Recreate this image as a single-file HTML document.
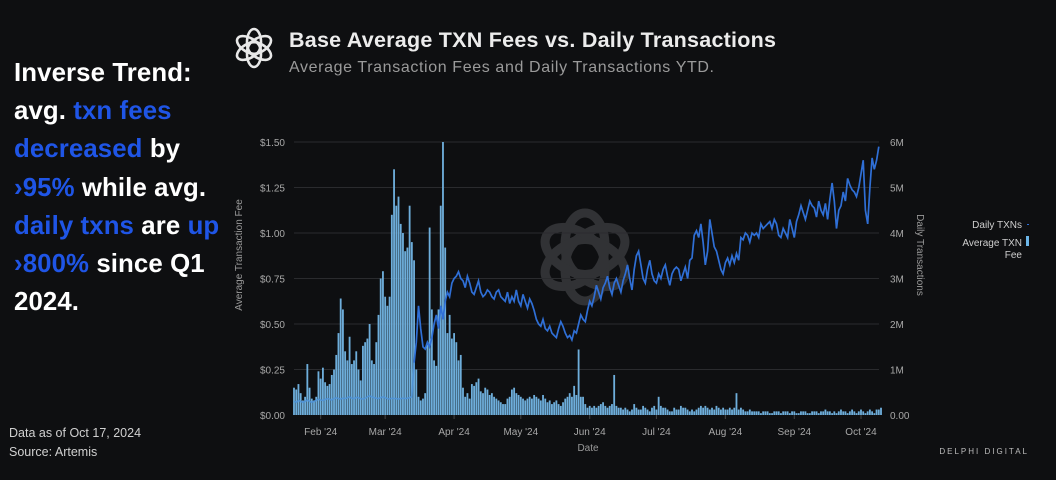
<!DOCTYPE html>
<html><head><meta charset="utf-8">
<style>
html,body{margin:0;padding:0;background:#0e0f11;}
body{width:1056px;height:480px;overflow:hidden;position:relative;font-family:"Liberation Sans",sans-serif;}
#lefttext{position:absolute;left:14px;top:54px;width:230px;font-size:25.8px;font-weight:bold;line-height:38.2px;color:#fff;letter-spacing:0.1px;}
.b{color:#1f55e6;}
</style></head>
<body>
<div id="lefttext">Inverse Trend:<br>avg. <span class="b">txn fees</span><br><span class="b">decreased</span> by<br><span class="b">›95%</span> while avg.<br><span class="b">daily txns</span> are <span class="b">up</span><br><span class="b">›800%</span> since Q1<br>2024.</div>
<svg id="chart" width="1056" height="480" style="position:absolute;left:0;top:0">
  <g fill="none" stroke="#e8e8e8" stroke-width="2.6">
    <ellipse cx="254" cy="48" rx="7" ry="13" transform="rotate(0 254 48) translate(0 -6)"/>
    <ellipse cx="254" cy="48" rx="7" ry="13" transform="rotate(60 254 48) translate(0 -6)"/>
    <ellipse cx="254" cy="48" rx="7" ry="13" transform="rotate(120 254 48) translate(0 -6)"/>
    <ellipse cx="254" cy="48" rx="7" ry="13" transform="rotate(180 254 48) translate(0 -6)"/>
    <ellipse cx="254" cy="48" rx="7" ry="13" transform="rotate(240 254 48) translate(0 -6)"/>
    <ellipse cx="254" cy="48" rx="7" ry="13" transform="rotate(300 254 48) translate(0 -6)"/>
  </g>
  <g fill="none" stroke="#3a3b3e" stroke-width="9" opacity="0.8">
    <ellipse cx="585" cy="257" rx="20" ry="32" transform="rotate(0 585 257) translate(0 -12)"/>
    <ellipse cx="585" cy="257" rx="20" ry="32" transform="rotate(60 585 257) translate(0 -12)"/>
    <ellipse cx="585" cy="257" rx="20" ry="32" transform="rotate(120 585 257) translate(0 -12)"/>
    <ellipse cx="585" cy="257" rx="20" ry="32" transform="rotate(180 585 257) translate(0 -12)"/>
    <ellipse cx="585" cy="257" rx="20" ry="32" transform="rotate(240 585 257) translate(0 -12)"/>
    <ellipse cx="585" cy="257" rx="20" ry="32" transform="rotate(300 585 257) translate(0 -12)"/>
  </g>
  <text x="289" y="47" font-size="21.5" font-weight="bold" fill="#ececec" textLength="487">Base Average TXN Fees vs. Daily Transactions</text>
  <text x="289" y="72" font-size="16" fill="#9a9a9a" textLength="425">Average Transaction Fees and Daily Transactions YTD.</text>
  <g id="grid"></g>
  <g id="bars"></g>
  <g id="lines"></g>
  <g id="axes"></g>
  <text x="0" y="0" font-size="10" fill="#9a9a9a" text-anchor="middle" transform="translate(242 255) rotate(-90)">Average Transaction Fee</text>
  <text x="0" y="0" font-size="10" fill="#9a9a9a" text-anchor="middle" transform="translate(917 255) rotate(90)">Daily Transactions</text>
  <text x="588" y="451" font-size="10" fill="#9a9a9a" text-anchor="middle">Date</text>
  <g>
    <g>
      <text x="1022" y="228" font-size="10" fill="#cfcfcf" text-anchor="end">Daily TXNs</text>
      <rect x="1027" y="224" width="2" height="1" fill="#2f6fd6"/>
    </g>
    <g>
      <text x="1022" y="246" font-size="10" fill="#cfcfcf" text-anchor="end">Average TXN</text>
      <text x="1022" y="258" font-size="10" fill="#cfcfcf" text-anchor="end">Fee</text>
      <rect x="1026" y="236" width="3" height="10" fill="#6cb6e8"/>
    </g>
  </g>
  <text x="9" y="437" font-size="12.5" fill="#d0d0d0">Data as of Oct 17, 2024</text>
  <text x="9" y="456" font-size="12.5" fill="#d0d0d0">Source: Artemis</text>
  <text x="1029" y="454" font-size="8" fill="#bdbdbd" text-anchor="end" letter-spacing="2">DELPHI DIGITAL</text>
</svg>
<script>
const fees = [
0.15,0.14,0.17,0.12,0.08,0.10,0.28,0.15,0.09,0.08,
0.10,0.24,0.20,0.26,0.18,0.16,0.17,0.22,0.25,0.33,
0.45,0.64,0.58,0.35,0.30,0.43,0.28,0.30,0.35,0.25,
0.19,0.38,0.40,0.42,0.50,0.30,0.28,0.40,0.55,0.75,
0.79,0.65,0.60,0.65,1.10,1.35,1.15,1.20,1.05,1.00,
0.90,0.92,1.15,0.95,0.85,0.25,0.10,0.08,0.09,0.12,
0.40,1.03,0.58,0.30,0.27,0.58,1.15,1.50,0.92,0.45,
0.55,0.42,0.45,0.40,0.30,0.33,0.15,0.10,0.12,0.09,
0.17,0.16,0.18,0.20,0.13,0.12,0.15,0.14,0.11,0.12,
0.10,0.09,0.08,0.07,0.06,0.06,0.09,0.10,0.14,0.15,
0.12,0.11,0.10,0.09,0.08,0.09,0.10,0.09,0.11,0.10,
0.09,0.08,0.11,0.09,0.07,0.08,0.06,0.07,0.08,0.06,
0.05,0.07,0.09,0.10,0.12,0.10,0.16,0.11,0.36,0.10,
0.10,0.06,0.04,0.05,0.04,0.05,0.04,0.05,0.06,0.07,
0.05,0.04,0.05,0.06,0.22,0.05,0.04,0.04,0.03,0.04,
0.03,0.02,0.03,0.06,0.04,0.03,0.03,0.05,0.04,0.03,
0.02,0.04,0.05,0.03,0.10,0.05,0.04,0.04,0.03,0.02,
0.02,0.04,0.03,0.03,0.05,0.04,0.04,0.03,0.02,0.03,
0.02,0.03,0.04,0.05,0.04,0.05,0.04,0.03,0.04,0.03,
0.05,0.04,0.03,0.04,0.03,0.03,0.04,0.03,0.04,0.12,
0.03,0.04,0.03,0.02,0.02,0.03,0.02,0.02,0.02,0.02,
0.01,0.02,0.02,0.02,0.01,0.01,0.02,0.02,0.02,0.01,
0.02,0.02,0.02,0.01,0.02,0.02,0.01,0.01,0.02,0.02,
0.02,0.01,0.01,0.02,0.02,0.02,0.01,0.02,0.02,0.03,
0.02,0.02,0.01,0.02,0.01,0.02,0.03,0.02,0.02,0.01,
0.02,0.03,0.02,0.01,0.02,0.03,0.02,0.01,0.02,0.03,
0.02,0.01,0.03,0.03,0.04];
const txns = [
0.30,0.28,0.32,0.30,0.28,0.30,0.33,0.30,0.28,0.30,
0.32,0.35,0.33,0.32,0.34,0.36,0.35,0.33,0.36,0.38,
0.36,0.35,0.37,0.36,0.38,0.40,0.37,0.36,0.39,0.38,
0.36,0.35,0.37,0.40,0.42,0.40,0.38,0.37,0.36,0.38,
0.40,0.38,0.36,0.35,0.37,0.36,0.36,0.35,0.36,0.37,
0.36,0.37,0.38,0.40,1.15,1.6,2.4,1.9,1.5,1.45,
1.6,1.5,1.7,2.0,2.2,1.9,2.4,2.1,2.5,2.7,
2.6,2.9,3.0,3.05,3.15,3.0,2.95,2.8,3.05,2.9,
2.7,2.65,2.8,2.95,2.7,2.6,2.65,2.75,2.7,2.6,
2.55,2.7,2.75,2.6,2.55,2.5,2.7,2.45,2.6,2.5,
2.75,2.5,2.4,2.65,2.5,2.35,2.55,2.45,2.3,2.1,
2.0,1.95,2.1,1.9,1.85,1.95,1.8,1.75,1.7,1.9,
2.05,1.95,1.8,1.7,1.75,1.65,1.85,1.8,2.0,2.2,
2.1,2.05,2.3,2.5,2.4,2.6,2.85,2.7,2.55,2.8,
2.9,3.05,2.8,2.65,2.9,
3.0,2.85,2.7,2.95,3.1,3.3,3.0,2.75,3.2,3.5,
3.6,3.3,3.0,2.9,3.2,3.4,3.1,2.95,2.9,3.1,
3.0,3.2,3.3,3.05,2.85,3.1,3.2,
3.25,3.2,2.95,3.1,3.25,3.0,3.4,3.45,3.95,4.05,
3.9,4.2,3.8,3.3,3.6,4.3,4.0,3.7,3.6,3.4,
3.2,3.1,3.35,3.45,3.3,3.5,3.35,3.55,3.4,3.9,
3.85,4.0,3.95,3.8,4.0,3.95,4.0,3.9,4.2,4.1,
4.15,4.2,4.25,4.1,4.3,4.2,3.95,3.9,4.1,4.0,
3.9,4.3,4.1,3.9,4.25,4.4,4.6,4.45,4.3,4.5,4.7,4.6,4.55,4.35,4.7,
4.5,4.4,4.65,4.3,4.75,5.1,4.7,4.1,4.5,4.6,
4.9,4.7,5.2,5.05,4.95,4.9,4.8,5.0,5.3,5.6,
4.5,4.2,5.0,5.65,5.4,5.6,5.9];
const feeTicks = [0,0.25,0.5,0.75,1.0,1.25,1.5];
const feeTickLabels = ["$0.00","$0.25","$0.50","$0.75","$1.00","$1.25","$1.50"];
const txnTicks = [0,1,2,3,4,5,6];
const txnTickLabels = ["0.00","1M","2M","3M","4M","5M","6M"];
const monthDays = [12,41,72,102,133,163,194,225,255];
const monthLabels = ["Feb '24","Mar '24","Apr '24","May '24","Jun '24","Jul '24","Aug '24","Sep '24","Oct '24"];
const lightEnd = 54;

const X0=294, X1=881, Y0=415, Y1=142, DMAX=264;
const NS="http://www.w3.org/2000/svg";
function xS(d){return X0+(X1-X0)*d/DMAX;}
function yFee(v){return Y0-(Y0-Y1)*v/1.5;}
function yTx(v){return Y0-(Y0-Y1)*v/6;}
function mk(tag,attrs,parent){const e=document.createElementNS(NS,tag);for(const k in attrs)e.setAttribute(k,attrs[k]);parent.appendChild(e);return e;}

const grid=document.getElementById('grid'), axes=document.getElementById('axes');
feeTicks.forEach((t,i)=>{
  const y=yFee(t);
  if(i>0){const l=mk('line',{x1:X0,x2:X1-2,y1:y,y2:y,stroke:'#2a2b2e','stroke-width':1},grid);
  
  }
  const tx=mk('text',{x:285,y:y+4,'font-size':10,fill:'#a8a8a8','text-anchor':'end'},axes);
  tx.textContent=feeTickLabels[i];
  
  
});
txnTicks.forEach((t,i)=>{
  const tx=mk('text',{x:890,y:yTx(t)+4,'font-size':10,fill:'#a8a8a8'},axes);
  tx.textContent=txnTickLabels[i];
  
  
});
monthDays.forEach((d,i)=>{
  const x=xS(d);
  mk('line',{x1:x,x2:x,y1:Y0,y2:Y0+4,stroke:'#444'},axes);
  const tx=mk('text',{x:x,y:435,'font-size':10,fill:'#a8a8a8','text-anchor':'middle'},axes);
  tx.textContent=monthLabels[i];
  
  
});
const bars=document.getElementById('bars');
const bw=(X1-X0)/DMAX;
fees.forEach((v,i)=>{
  const y=yFee(v);
  const r=mk('rect',{x:xS(i)-bw/2+0.2,y:y,width:bw-0.4,height:Math.max(Y0-y,0.5),fill:'#6eaedb'},bars);
  
  
});
const lines=document.getElementById('lines');
let p1='',p2='';
txns.forEach((v,i)=>{
  const pt=xS(i).toFixed(1)+','+yTx(v).toFixed(1)+' ';
  if(i<=lightEnd) p1+=pt;
  if(i>=lightEnd) p2+=pt;
});
const l1=mk('polyline',{points:p1,fill:'none',stroke:'#4f93d8','stroke-width':1.6,opacity:0.85},lines);


const l2=mk('polyline',{points:p2,fill:'none',stroke:'#2f6fd6','stroke-width':1.7},lines);


</script>
</body></html>
